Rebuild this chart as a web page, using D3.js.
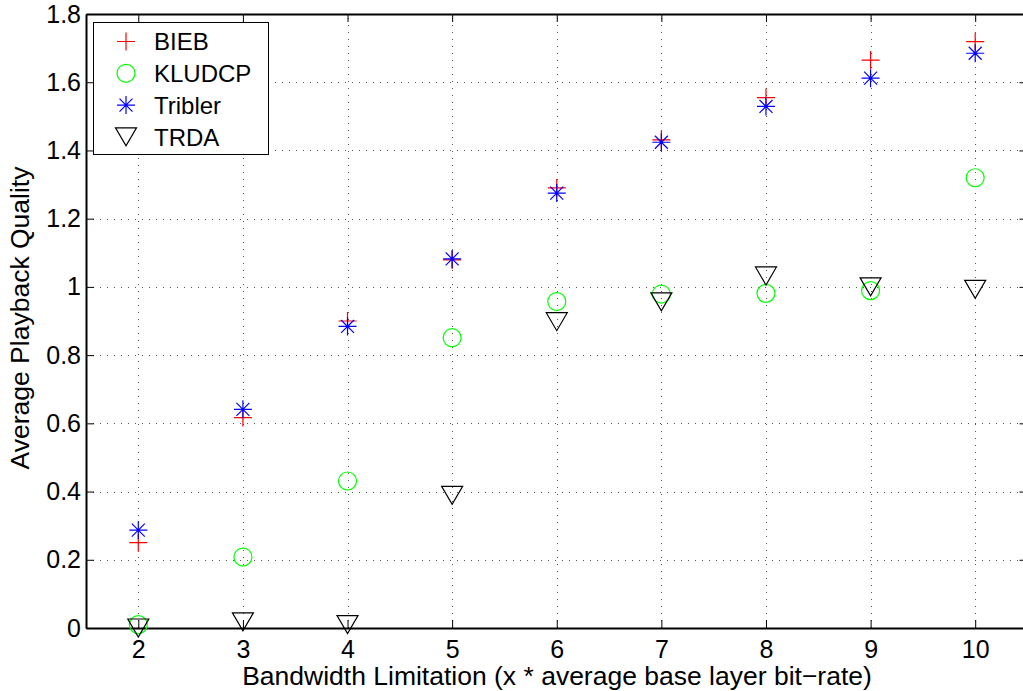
<!DOCTYPE html>
<html>
<head>
<meta charset="utf-8">
<script src="https://cdn.jsdelivr.net/npm/d3@7"></script>
<style>
  body { margin: 0; background: #fff; }
  svg { display: block; font-family: "Liberation Sans", Arial, sans-serif; }
</style>
</head>
<body>
<svg width="1023" height="691"></svg>
<script>
// Data
var bandwidth = [2, 3, 4, 5, 6, 7, 8, 9, 10];
var bieb    = [0.25, 0.617, 0.90, 1.079, 1.29, 1.431, 1.555, 1.665, 1.719];
var kludcp  = [0.01, 0.208, 0.431, 0.851, 0.957, 0.979, 0.981, 0.989, 1.32];
var tribler = [0.287, 0.641, 0.884, 1.082, 1.275, 1.424, 1.529, 1.612, 1.685];
var trda    = [0.0, 0.018, 0.01, 0.389, 0.898, 0.956, 1.032, 1.0, 0.993];
var seriesNames = ["BIEB", "KLUDCP", "Tribler", "TRDA"];
var xTicks = [2, 3, 4, 5, 6, 7, 8, 9, 10];
var yTicks = [0, 0.2, 0.4, 0.6, 0.8, 1, 1.2, 1.4, 1.6, 1.8];

var svg = d3.select("svg"),
	plotLeft = 86, plotRight = 1027.5, plotTop = 14, plotBottom = 628;

var x = d3.scaleLinear().domain([1.5, 10.5]).range([plotLeft, plotRight]);
var y = d3.scaleLinear().domain([0, 1.8]).range([plotBottom, plotTop]);

// Grid (dotted, like matlab "grid on")
var grid = svg.append("g")
	.attr("stroke", "#555")
	.attr("stroke-width", 1)
	.attr("stroke-dasharray", "1,6");
grid.selectAll(".gx").data(xTicks).enter().append("line")
	.attr("x1", d => Math.round(x(d)) + 0.5).attr("x2", d => Math.round(x(d)) + 0.5)
	.attr("y1", plotBottom).attr("y2", plotTop);
grid.selectAll(".gy").data(yTicks.slice(1, -1)).enter().append("line")
	.attr("y1", d => Math.round(y(d)) + 0.5).attr("y2", d => Math.round(y(d)) + 0.5)
	.attr("x1", plotLeft).attr("x2", plotRight);

// Axes: ticks point inwards, box all round
var fmt = d => d === 0 ? "0" : (d === 1 ? "1" : d3.format(".1f")(d));
var xAxis = svg.append("g")
	.attr("transform", "translate(0," + plotBottom + ")")
	.call(d3.axisBottom(x).tickValues(xTicks).tickSize(-8).tickPadding(12).tickSizeOuter(0));
svg.append("g")
	.attr("transform", "translate(0," + plotTop + ")")
	.call(d3.axisTop(x).tickValues(xTicks).tickSize(-8).tickFormat("").tickSizeOuter(0));
var yAxis = svg.append("g")
	.attr("transform", "translate(" + plotLeft + ",0)")
	.call(d3.axisLeft(y).tickValues(yTicks).tickFormat(fmt).tickSize(-8).tickPadding(5).tickSizeOuter(0));
svg.append("g")
	.attr("transform", "translate(" + plotRight + ",0)")
	.call(d3.axisRight(y).tickValues(yTicks).tickFormat("").tickSize(-8).tickSizeOuter(0));

svg.selectAll(".domain").attr("stroke", "#000").attr("stroke-width", 2);
svg.selectAll(".tick line").attr("stroke", "#000").attr("stroke-width", 1);
svg.selectAll(".tick text")
	.attr("fill", "#000")
	.style("font-size", "25px")
	.style("font-family", "'Liberation Sans', Arial, sans-serif");
xAxis.selectAll(".tick text").attr("dy", "0.71em");

// Axis titles
svg.append("text")
	.attr("x", 557).attr("y", 685)
	.attr("text-anchor", "middle")
	.style("font-size", "26.5px")
	.text("Bandwidth Limitation (x * average base layer bit\u2212rate)");
svg.append("text")
	.attr("transform", "translate(29,318) rotate(-90)")
	.attr("text-anchor", "middle")
	.style("font-size", "26.5px")
	.text("Average Playback Quality");

// Marker shapes (half-size 9)
function drawMarker(g, kind) {
	var r = 9;
	if (kind === "plus") {
		g.append("path").attr("d", "M" + (-r) + ",0H" + r + "M0," + (-r) + "V" + r)
			.attr("stroke", "#ff0000").attr("stroke-width", 1.2).attr("fill", "none");
	} else if (kind === "circle") {
		g.append("circle").attr("r", r)
			.attr("stroke", "#00ff00").attr("stroke-width", 1.2).attr("fill", "none");
	} else if (kind === "star") {
		var a = r * 0.72;
		g.append("path").attr("d", "M" + (-r) + ",0H" + r + "M0," + (-r) + "V" + r +
				"M" + (-a) + "," + (-a) + "L" + a + "," + a + "M" + (-a) + "," + a + "L" + a + "," + (-a))
			.attr("stroke", "#0000ff").attr("stroke-width", 1.2).attr("fill", "none");
	} else if (kind === "tri") {
		g.append("path").attr("d", "M-10.5,-9H10.5L0,9Z")
			.attr("stroke", "#000").attr("stroke-width", 1.2).attr("fill", "none");
	}
}

var series = [
	{name: seriesNames[0], values: bieb, kind: "plus"},
	{name: seriesNames[1], values: kludcp, kind: "circle"},
	{name: seriesNames[2], values: tribler, kind: "star"},
	{name: seriesNames[3], values: trda, kind: "tri"}
];

series.forEach(function (s) {
	svg.append("g").selectAll("g")
		.data(s.values)
		.enter()
		.append("g")
		.attr("transform", (d, i) => "translate(" + x(bandwidth[i]) + "," + y(d) + ")")
		.each(function () { drawMarker(d3.select(this), s.kind); });
});

// Legend
var legend = svg.append("g");
legend.append("rect")
	.attr("x", 93.5).attr("y", 22.5).attr("width", 175).attr("height", 132)
	.attr("fill", "#fff").attr("stroke", "#000").attr("stroke-width", 1);
var rows = legend.selectAll(".row").data(series).enter().append("g")
	.attr("transform", (d, i) => "translate(126," + (41.5 + i * 31.8) + ")");
rows.each(function (d) { drawMarker(d3.select(this), d.kind); });
rows.append("text")
	.attr("x", 28).attr("dy", "0.36em")
	.style("font-size", "24px")
	.text(d => d.name);
</script>
</body>
</html>
